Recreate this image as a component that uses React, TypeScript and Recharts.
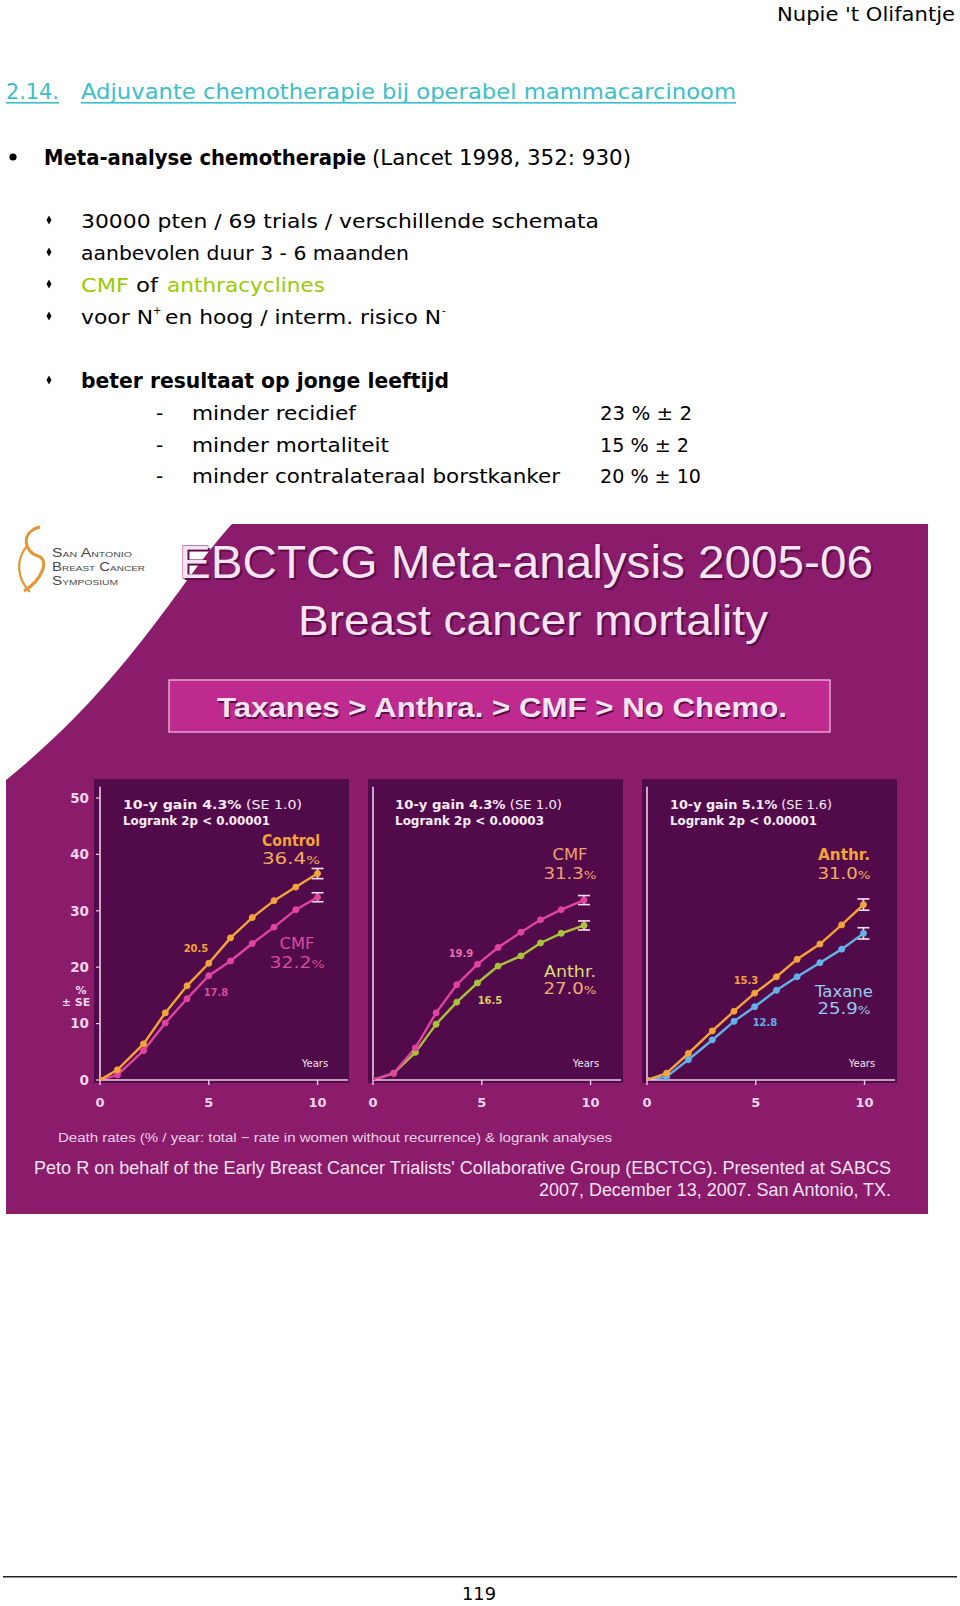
import React from 'react';
import { LineChart, Line, XAxis, YAxis, ErrorBar } from 'recharts';

// ---------- data ----------
const years1 = [0, 0.8, 2, 3, 4, 5, 6, 7, 8, 9, 10];
const controlVals = [0, 1.8, 6.4, 11.9, 16.7, 20.7, 25.2, 28.8, 31.8, 34.2, 36.6];
const cmf1Vals = [0, 0.9, 5.2, 10.1, 14.4, 18.5, 21.1, 24.2, 27.1, 30.2, 32.4];
const controlSE = 0.9;
const cmf1SE = 0.8;

const years2 = [0, 0.95, 1.95, 2.9, 3.85, 4.8, 5.75, 6.8, 7.7, 8.65, 9.7];
const cmf2Vals = [0, 1.2, 5.7, 11.9, 16.9, 20.5, 23.5, 26.2, 28.4, 30.2, 31.9];
const anthr2Vals = [0, 1.2, 4.9, 9.9, 13.8, 17.2, 20.2, 22.0, 24.3, 26.0, 27.4];
const cmf2SE = 0.8;
const anthr2SE = 0.8;

const years3 = [0, 0.9, 1.9, 3, 4, 4.95, 5.95, 6.9, 7.95, 8.95, 9.95];
const anthr3Vals = [0, 1.2, 4.7, 8.7, 12.2, 15.4, 18.3, 21.4, 24.1, 27.5, 31.1];
const taxaneVals = [0, 0.6, 3.6, 7.1, 10.4, 13.0, 15.9, 18.3, 20.8, 23.2, 26.0];
const anthr3SE = 1.0;
const taxaneSE = 1.0;

const xTicks = [0, 5, 10];
const yTicks = [0, 10, 20, 30, 40, 50];

function buildRows(years: number[], a: number[], b: number[], seA: number, seB: number) {
  const last = years.length - 1;
  return years.map((yr, i) => ({
    year: yr,
    a: a[i],
    b: b[i],
    ea: i === last ? seA : undefined,
    eb: i === last ? seB : undefined,
  }));
}

const panel1 = buildRows(years1, controlVals, cmf1Vals, controlSE, cmf1SE);
const panel2 = buildRows(years2, cmf2Vals, anthr2Vals, cmf2SE, anthr2SE);
const panel3 = buildRows(years3, anthr3Vals, taxaneVals, anthr3SE, taxaneSE);

// ---------- styles ----------
const PAGE_FONT = '"DejaVu Sans", sans-serif';
const SLIDE_FONT = '"Liberation Sans", Arial, sans-serif';
const CHART_FONT = '"DejaVu Sans", Verdana, sans-serif';

const ORANGE = '#f2a43a';
const PINK = '#e0449e';
const GREEN = '#a9c23a';
const BLUE = '#62b2e8';
const AXIS = '#f2cbe8';
const ERR = '#f8e2f2';

const T = (p: any) => {
  const { x, y, s, w = 'normal', f = '#000', a = 'start', len, fam = PAGE_FONT, children, ...rest } = p;
  return (
    <text
      x={x}
      y={y}
      fontSize={s}
      fontWeight={w}
      fill={f}
      textAnchor={a}
      fontFamily={fam}
      textLength={len}
      lengthAdjust={len ? 'spacingAndGlyphs' : undefined}
      {...rest}
    >
      {children}
    </text>
  );
};

function Panel(props: any) {
  const { left, data, colA, colB, showY } = props;
  return (
    <div style={{ position: 'absolute', left, top: 770, width: 320, height: 350 }}>
      <LineChart width={320} height={350} data={data} margin={{ top: 16.7, right: 12, bottom: 10, left: 0 }}>
        <XAxis
          dataKey="year"
          type="number"
          domain={[0, 11.4]}
          ticks={xTicks}
          allowDataOverflow
          height={30}
          stroke={AXIS}
          strokeWidth={1.6}
          tickSize={5}
          tickMargin={13}
          tickLine={{ stroke: AXIS, strokeWidth: 1.4 }}
          tick={{ fill: '#f4d6ec', fontSize: 13, fontWeight: 'bold', fontFamily: CHART_FONT }}
        />
        <YAxis
          type="number"
          domain={[0, 52]}
          ticks={yTicks}
          allowDataOverflow
          width={60}
          stroke={AXIS}
          strokeWidth={1.6}
          tickSize={4}
          tickMargin={7}
          tickLine={{ stroke: AXIS, strokeWidth: 1.2 }}
          tick={showY ? { fill: '#f4d6ec', fontSize: 13.5, fontWeight: 'bold', fontFamily: CHART_FONT } : false}
        />
        <Line
          type="linear"
          dataKey="b"
          stroke={colB}
          strokeWidth={2.4}
          dot={{ r: 3, fill: colB, stroke: colB, strokeWidth: 1 }}
          isAnimationActive={false}
        >
          <ErrorBar dataKey="eb" width={6} stroke={ERR} strokeWidth={1.6} direction="y" />
        </Line>
        <Line
          type="linear"
          dataKey="a"
          stroke={colA}
          strokeWidth={2.4}
          dot={{ r: 3, fill: colA, stroke: colA, strokeWidth: 1 }}
          isAnimationActive={false}
        >
          <ErrorBar dataKey="ea" width={6} stroke={ERR} strokeWidth={1.6} direction="y" />
        </Line>
      </LineChart>
    </div>
  );
}

const Diamond = ({ x, y }: any) => (
  <polygon points={`${x},${y - 4.5} ${x + 2.5},${y} ${x},${y + 4.5} ${x - 2.5},${y}`} fill="#000" />
);

export default function App() {
  const teal = '#3dbecb';
  const green = '#99cc00';
  const slideText = '#f6e4f2';
  const outline = { stroke: '#6e1258', strokeWidth: 0.8, paintOrder: 'stroke' } as any;
  const gainText = (x: number, y: number, gain: string, se: string, len: number) => (
    <T x={x} y={y} s={12} fam={CHART_FONT} f="#f8ecf6" len={len}>
      <tspan fontWeight="bold">{`10-y gain ${gain}`}</tspan>
      <tspan>{` (SE ${se})`}</tspan>
    </T>
  );
  return (
    <div style={{ position: 'absolute', left: 0, top: 0, width: 960, height: 1606, background: '#fff', overflow: 'hidden' }}>
      <svg width={960} height={1606} style={{ position: 'absolute', left: 0, top: 0 }}>
        {/* ---------- page text ---------- */}
        <T x={777} y={21} s={20} len={178}>Nupie 't Olifantje</T>

        <T x={6} y={99} s={22} f={teal} len={53}>2.14.</T>
        <rect x={6} y={102} width={53} height={1.6} fill={teal} />
        <T x={81} y={99} s={22} f={teal} len={655}>Adjuvante chemotherapie bij operabel mammacarcinoom</T>
        <rect x={81} y={102} width={655} height={1.6} fill={teal} />

        <circle cx={13} cy={157} r={3.6} fill="#000" />
        <T x={44} y={165} s={21} w="bold" len={322}>Meta-analyse chemotherapie</T>
        <T x={372} y={165} s={21} len={259}>(Lancet 1998, 352: 930)</T>

        <Diamond x={49} y={220} />
        <T x={81} y={228} s={20} len={518}>30000 pten / 69 trials / verschillende schemata</T>
        <Diamond x={49} y={252} />
        <T x={81} y={260} s={20} len={328}>aanbevolen duur 3 - 6 maanden</T>
        <Diamond x={49} y={284} />
        <T x={81} y={292} s={20} f={green} len={48}>CMF</T>
        <T x={136} y={292} s={20} len={22}>of</T>
        <T x={167} y={292} s={20} f={green} len={158}>anthracyclines</T>
        <Diamond x={49} y={316} />
        <T x={81} y={324} s={20} len={72}>voor N</T>
        <T x={153} y={314} s={10}>+</T>
        <T x={165} y={324} s={20} len={276}>en hoog / interm. risico N</T>
        <T x={442} y={314} s={10}>-</T>

        <Diamond x={49} y={380} />
        <T x={81} y={388} s={21} w="bold" len={368}>beter resultaat op jonge leeftijd</T>
        <T x={156} y={420} s={20}>-</T>
        <T x={192} y={420} s={20} len={164}>minder recidief</T>
        <T x={600} y={420} s={20} len={92}>23 % ± 2</T>
        <T x={156} y={452} s={20}>-</T>
        <T x={192} y={452} s={20} len={197}>minder mortaliteit</T>
        <T x={600} y={452} s={20} len={89}>15 % ± 2</T>
        <T x={156} y={483} s={20}>-</T>
        <T x={192} y={483} s={20} len={368}>minder contralateraal borstkanker</T>
        <T x={600} y={483} s={20} len={101}>20 % ± 10</T>

        {/* ---------- slide ---------- */}
        <rect x={6} y={524} width={922} height={690} fill="#8b1b6b" />
        <path d="M 6 524 L 232 524 C 180 580, 130 680, 6 780 Z" fill="#ffffff" />
        {/* logo */}
        <path d="M 40 527 C 20 532, 24 552, 38 556 C 50 560, 42 580, 24 591" stroke="#e39632" strokeWidth={3} fill="none" />
        <path d="M 28 545 C 14 560, 18 580, 30 592" stroke="#e39632" strokeWidth={2.2} fill="none" />
        <T x={52} y={557} s={12} f="#4a4a4a" fam={SLIDE_FONT} len={80} style={{ fontVariant: 'small-caps' }}>San Antonio</T>
        <T x={52} y={571} s={12} f="#4a4a4a" fam={SLIDE_FONT} len={93} style={{ fontVariant: 'small-caps' }}>Breast Cancer</T>
        <T x={52} y={585} s={12} f="#4a4a4a" fam={SLIDE_FONT} len={66} style={{ fontVariant: 'small-caps' }}>Symposium</T>

        <T x={181} y={580} s={46} f="#5a0c48" fam={SLIDE_FONT} len={694}>EBCTCG Meta-analysis 2005-06</T>
        <T x={179} y={578} s={46} f={slideText} fam={SLIDE_FONT} len={694} {...outline}>EBCTCG Meta-analysis 2005-06</T>
        <T x={300} y={637} s={43} f="#5a0c48" fam={SLIDE_FONT} len={470}>Breast cancer mortality</T>
        <T x={298} y={635} s={43} f={slideText} fam={SLIDE_FONT} len={470}>Breast cancer mortality</T>

        <rect x={169} y={680} width={661} height={52} fill="#bf2a8e" stroke="#f4c8e4" strokeWidth={1.2} />
        <T x={218} y={719} s={27} w="bold" f="#5a0c48" fam={SLIDE_FONT} len={570}>Taxanes &gt; Anthra. &gt; CMF &gt; No Chemo.</T>
        <T x={217} y={717} s={27} w="bold" f={slideText} fam={SLIDE_FONT} len={570}>Taxanes &gt; Anthra. &gt; CMF &gt; No Chemo.</T>

        <rect x={94} y={779} width={255} height={304} fill="#520b4a" />
        <rect x={368} y={779} width={255} height={304} fill="#520b4a" />
        <rect x={642} y={779} width={255} height={304} fill="#520b4a" />

        <T x={58} y={1142} s={12.5} f="#ecd2e6" fam={SLIDE_FONT} len={554}>Death rates (% / year: total − rate in women without recurrence) &amp; logrank analyses</T>
        <T x={34} y={1174} s={18} f="#f2e2f0" fam={SLIDE_FONT} len={857}>Peto R on behalf of the Early Breast Cancer Trialists' Collaborative Group (EBCTCG). Presented at SABCS</T>
        <T x={891} y={1196} s={18} a="end" f="#f2e2f0" fam={SLIDE_FONT} len={352}>2007, December 13, 2007. San Antonio, TX.</T>

        {/* page footer */}
        <rect x={3} y={1576} width={954} height={1.5} fill="#222" />
        <T x={479} y={1600} s={18} a="middle" len={34}>119</T>
      </svg>

      <Panel left={39.5} data={panel1} colA={ORANGE} colB={PINK} showY />
      <Panel left={312.5} data={panel2} colA={PINK} colB={GREEN} showY={false} />
      <Panel left={586.5} data={panel3} colA={ORANGE} colB={BLUE} showY={false} />

      <svg width={960} height={1606} style={{ position: 'absolute', left: 0, top: 0, pointerEvents: 'none' }}>
        {/* y label */}
        <T x={81} y={994} s={11} w="bold" a="middle" f="#f4d6ec" fam={CHART_FONT}>%</T>
        <T x={76} y={1006} s={11} w="bold" a="middle" f="#f4d6ec" fam={CHART_FONT}>± SE</T>

        {/* panel 1 */}
        {gainText(123, 809, '4.3%', '1.0', 179)}
        <T x={123} y={825} s={12} w="bold" f="#f8ecf6" fam={CHART_FONT} len={147}>Logrank 2p &lt; 0.00001</T>
        <T x={291} y={846} s={15} w="bold" a="middle" f={ORANGE} fam={CHART_FONT} len={58}>Control</T>
        <T x={291} y={864} s={15} a="middle" f="#f2ae5c" fam={CHART_FONT} len={58}>36.4<tspan fontSize={11}>%</tspan></T>
        <T x={297} y={949} s={15} a="middle" f="#d84a9c" fam={CHART_FONT} len={35}>CMF</T>
        <T x={297} y={968} s={15} a="middle" f="#d84a9c" fam={CHART_FONT} len={55}>32.2<tspan fontSize={11}>%</tspan></T>
        <T x={196} y={952} s={10} w="bold" a="middle" f={ORANGE} fam={CHART_FONT}>20.5</T>
        <T x={216} y={996} s={10} w="bold" a="middle" f="#d84a9c" fam={CHART_FONT}>17.8</T>
        <T x={315} y={1067} s={10} a="middle" f="#f4e4f0" fam={CHART_FONT}>Years</T>

        {/* panel 2 */}
        {gainText(395, 809, '4.3%', '1.0', 167)}
        <T x={395} y={825} s={12} w="bold" f="#f8ecf6" fam={CHART_FONT} len={149}>Logrank 2p &lt; 0.00003</T>
        <T x={570} y={860} s={15} a="middle" f="#f0a070" fam={CHART_FONT} len={35}>CMF</T>
        <T x={570} y={879} s={15} a="middle" f="#f0a070" fam={CHART_FONT} len={53}>31.3<tspan fontSize={11}>%</tspan></T>
        <T x={570} y={977} s={15} a="middle" f="#d8de78" fam={CHART_FONT} len={52}>Anthr.</T>
        <T x={570} y={994} s={15} a="middle" f="#f0b070" fam={CHART_FONT} len={53}>27.0<tspan fontSize={11}>%</tspan></T>
        <T x={461} y={957} s={10} w="bold" a="middle" f="#e070b0" fam={CHART_FONT}>19.9</T>
        <T x={490} y={1004} s={10} w="bold" a="middle" f="#d8d060" fam={CHART_FONT}>16.5</T>
        <T x={586} y={1067} s={10} a="middle" f="#f4e4f0" fam={CHART_FONT}>Years</T>

        {/* panel 3 */}
        {gainText(670, 809, '5.1%', '1.6', 162)}
        <T x={670} y={825} s={12} w="bold" f="#f8ecf6" fam={CHART_FONT} len={147}>Logrank 2p &lt; 0.00001</T>
        <T x={844} y={860} s={15} w="bold" a="middle" f={ORANGE} fam={CHART_FONT} len={52}>Anthr.</T>
        <T x={844} y={879} s={15} a="middle" f="#f2ae5c" fam={CHART_FONT} len={53}>31.0<tspan fontSize={11}>%</tspan></T>
        <T x={844} y={997} s={15} a="middle" f="#96caf2" fam={CHART_FONT} len={58}>Taxane</T>
        <T x={844} y={1014} s={15} a="middle" f="#96caf2" fam={CHART_FONT} len={53}>25.9<tspan fontSize={11}>%</tspan></T>
        <T x={746} y={984} s={10} w="bold" a="middle" f={ORANGE} fam={CHART_FONT}>15.3</T>
        <T x={765} y={1026} s={10} w="bold" a="middle" f={BLUE} fam={CHART_FONT}>12.8</T>
        <T x={862} y={1067} s={10} a="middle" f="#f4e4f0" fam={CHART_FONT}>Years</T>
      </svg>
    </div>
  );
}
